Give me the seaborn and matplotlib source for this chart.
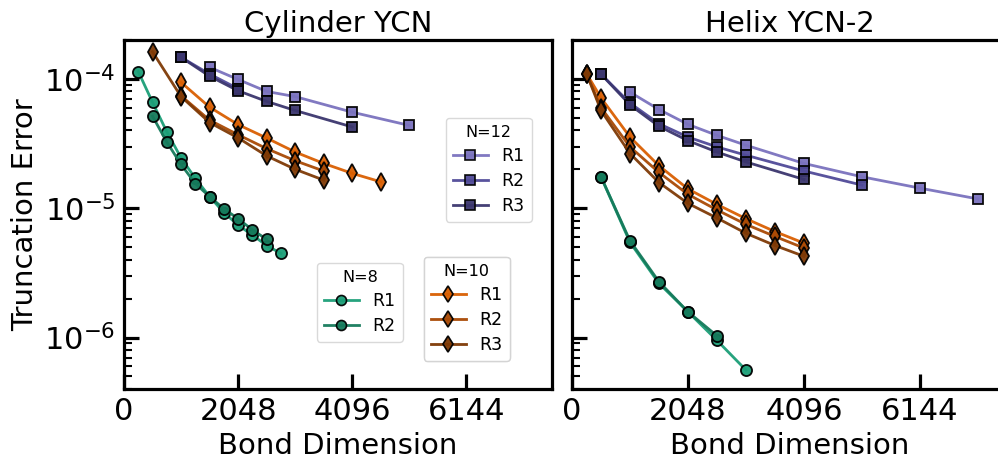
import numpy as np
import pandas as pd
import matplotlib
matplotlib.use("Agg")
import matplotlib.pyplot as plt
import seaborn as sns
from matplotlib.lines import Line2D

# ---------------- data ----------------
# Cylinder YCN
cyl_n8_r1_x = [256, 512, 768, 1024, 1280, 1536, 1792, 2048, 2304, 2560, 2816]
cyl_n8_r1_y = [1.14e-4, 6.6e-5, 3.9e-5, 2.45e-5, 1.7e-5, 1.23e-5, 9.25e-6, 7.4e-6, 6.2e-6, 5.15e-6, 4.47e-6]
cyl_n8_r2_x = [512, 768, 1024, 1280, 1536, 1792, 2048, 2304, 2560]
cyl_n8_r2_y = [5.15e-5, 3.25e-5, 2.18e-5, 1.55e-5, 1.23e-5, 9.9e-6, 8.3e-6, 6.8e-6, 5.75e-6]

cyl_n10_r1_x = [1024, 1536, 2048, 2560, 3072, 3584, 4096, 4608]
cyl_n10_r1_y = [9.4e-5, 6.05e-5, 4.43e-5, 3.49e-5, 2.72e-5, 2.22e-5, 1.86e-5, 1.6e-5]
cyl_n10_r2_x = [1024, 1536, 2048, 2560, 3072, 3584]
cyl_n10_r2_y = [7.4e-5, 4.8e-5, 3.7e-5, 2.89e-5, 2.33e-5, 1.94e-5]
cyl_n10_r3_x = [512, 1024, 1536, 2048, 2560, 3072, 3584]
cyl_n10_r3_y = [1.62e-4, 7.3e-5, 4.6e-5, 3.5e-5, 2.54e-5, 2.0e-5, 1.65e-5]

cyl_n12_r1_x = [1536, 2048, 2560, 3072, 4096, 5120]
cyl_n12_r1_y = [1.23e-4, 9.9e-5, 8.0e-5, 7.3e-5, 5.53e-5, 4.37e-5]
cyl_n12_r2_x = [1024, 1536, 2048]
cyl_n12_r2_y = [1.47e-4, 1.09e-4, 8.4e-5]
cyl_n12_r3_x = [1024, 1536, 2048, 2560, 3072, 4096]
cyl_n12_r3_y = [1.47e-4, 1.05e-4, 8.1e-5, 6.7e-5, 5.7e-5, 4.25e-5]

# Helix YCN-2
hel_n8_r1_x = [512, 1024, 1536, 2048, 2560, 3072]
hel_n8_r1_y = [1.75e-5, 5.45e-6, 2.62e-6, 1.58e-6, 9.5e-7, 5.6e-7]
hel_n8_r2_x = [512, 1024, 1536, 2048, 2560]
hel_n8_r2_y = [1.75e-5, 5.6e-6, 2.7e-6, 1.58e-6, 1.03e-6]

hel_n10_r1_x = [256, 512, 1024, 1536, 2048, 2560, 3072, 3584, 4096]
hel_n10_r1_y = [1.1e-4, 7.14e-5, 3.55e-5, 2.13e-5, 1.41e-5, 1.07e-5, 8.3e-6, 6.6e-6, 5.37e-6]
hel_n10_r2_x = [256, 512, 1024, 1536, 2048, 2560, 3072, 3584, 4096]
hel_n10_r2_y = [1.1e-4, 6.0e-5, 2.98e-5, 1.89e-5, 1.28e-5, 9.7e-6, 7.5e-6, 6.05e-6, 4.92e-6]
hel_n10_r3_x = [256, 512, 1024, 1536, 2048, 2560, 3072, 3584, 4096]
hel_n10_r3_y = [1.1e-4, 5.7e-5, 2.65e-5, 1.58e-5, 1.09e-5, 8.4e-6, 6.4e-6, 5.15e-6, 4.25e-6]

hel_n12_r1_x = [1024, 1536, 2048, 2560, 3072, 4096, 5120, 6144, 7168]
hel_n12_r1_y = [7.9e-5, 5.8e-5, 4.45e-5, 3.66e-5, 3.07e-5, 2.22e-5, 1.75e-5, 1.43e-5, 1.18e-5]
hel_n12_r2_x = [512, 1024, 1536, 2048, 2560, 3072, 4096, 5120]
hel_n12_r2_y = [1.09e-4, 6.5e-5, 4.5e-5, 3.55e-5, 2.98e-5, 2.57e-5, 1.94e-5, 1.51e-5]
hel_n12_r3_x = [512, 1024, 1536, 2048, 2560, 3072, 4096]
hel_n12_r3_y = [1.09e-4, 6.3e-5, 4.3e-5, 3.33e-5, 2.72e-5, 2.28e-5, 1.67e-5]

titles = ["Cylinder YCN", "Helix YCN-2"]
xticks = [0, 2048, 4096, 6144]
xlabel = "Bond Dimension"
ylabel = "Truncation Error"

colors = {
    (8, "R1"): "#1b9e77", (8, "R2"): "#157a5b",
    (10, "R1"): "#d95f02", (10, "R2"): "#a94a05", (10, "R3"): "#7f3a06",
    (12, "R1"): "#7a72be", (12, "R2"): "#504a98", (12, "R3"): "#3b366e",
}
markers = {8: "o", 10: "d", 12: "s"}
msizes = {8: 8, 10: 9, 12: 7.5}

panels = [
    {
        (8, "R1"): (cyl_n8_r1_x, cyl_n8_r1_y), (8, "R2"): (cyl_n8_r2_x, cyl_n8_r2_y),
        (10, "R1"): (cyl_n10_r1_x, cyl_n10_r1_y), (10, "R2"): (cyl_n10_r2_x, cyl_n10_r2_y),
        (10, "R3"): (cyl_n10_r3_x, cyl_n10_r3_y),
        (12, "R1"): (cyl_n12_r1_x, cyl_n12_r1_y), (12, "R2"): (cyl_n12_r2_x, cyl_n12_r2_y),
        (12, "R3"): (cyl_n12_r3_x, cyl_n12_r3_y),
    },
    {
        (8, "R1"): (hel_n8_r1_x, hel_n8_r1_y), (8, "R2"): (hel_n8_r2_x, hel_n8_r2_y),
        (10, "R1"): (hel_n10_r1_x, hel_n10_r1_y), (10, "R2"): (hel_n10_r2_x, hel_n10_r2_y),
        (10, "R3"): (hel_n10_r3_x, hel_n10_r3_y),
        (12, "R1"): (hel_n12_r1_x, hel_n12_r1_y), (12, "R2"): (hel_n12_r2_x, hel_n12_r2_y),
        (12, "R3"): (hel_n12_r3_x, hel_n12_r3_y),
    },
]

plt.rcParams['font.family'] = ['DejaVu Sans']

fig = plt.figure(figsize=(9.98, 4.59), dpi=100)
ax1 = fig.add_axes([124 / 998, 1 - 389 / 459, 428 / 998, 349 / 459])
ax2 = fig.add_axes([572 / 998, 1 - 389 / 459, 435 / 998, 349 / 459])
axes = [ax1, ax2]

for ax, data, title in zip(axes, panels, titles):
    for key, (xs, ys) in data.items():
        n, r = key
        df = pd.DataFrame({"x": xs, "y": ys})
        sns.lineplot(data=df, x="x", y="y", ax=ax, color=colors[key], marker=markers[n],
                     markersize=msizes[n], markeredgecolor="black", markeredgewidth=1.3,
                     linewidth=2, alpha=0.95, estimator=None, sort=False, legend=False)
    ax.set_yscale("log")
    ax.set_xlim(0, 7680)
    ax.set_ylim(4e-7, 2e-4)
    ax.set_xticks(xticks)
    ax.set_xticklabels([str(t) for t in xticks])
    ax.set_title(title, fontsize=21)
    ax.set_xlabel(xlabel, fontsize=21)
    for s in ax.spines.values():
        s.set_linewidth(2.3)
    ax.tick_params(axis="both", which="major", direction="in", length=11, width=2.3,
                   labelsize=22, pad=6)
    ax.tick_params(axis="y", which="minor", direction="in", length=6, width=1.5)
    ax.tick_params(axis="x", which="minor", bottom=False)

ax1.set_ylabel(ylabel, fontsize=21)
ax2.set_ylabel("")
ax2.tick_params(axis="y", which="both", labelleft=False)


def make_legend(ax, n, keys, loc_bbox):
    handles = [Line2D([0], [0], color=colors[(n, r)], marker=markers[n], markersize=msizes[n] * 0.9,
                      markeredgecolor="black", markeredgewidth=1.2, linewidth=2, alpha=0.95)
               for r in keys]
    leg = ax.legend(handles, keys, title=f"N={n}", loc="upper left", bbox_to_anchor=loc_bbox,
                    bbox_transform=fig.transFigure, fontsize=12.5, title_fontsize=11.5,
                    frameon=True, fancybox=True, handlelength=2.0, borderpad=0.4,
                    borderaxespad=0, labelspacing=0.4, handletextpad=0.8)
    leg.get_frame().set_edgecolor("#d0d0d0")
    ax.add_artist(leg)
    return leg


make_legend(ax1, 12, ["R1", "R2", "R3"], (446 / 998, 1 - 118 / 459))
make_legend(ax1, 8, ["R1", "R2"], (317 / 998, 1 - 263 / 459))
make_legend(ax1, 10, ["R1", "R2", "R3"], (424 / 998, 1 - 257 / 459))

fig.savefig("out.png", dpi=100)
